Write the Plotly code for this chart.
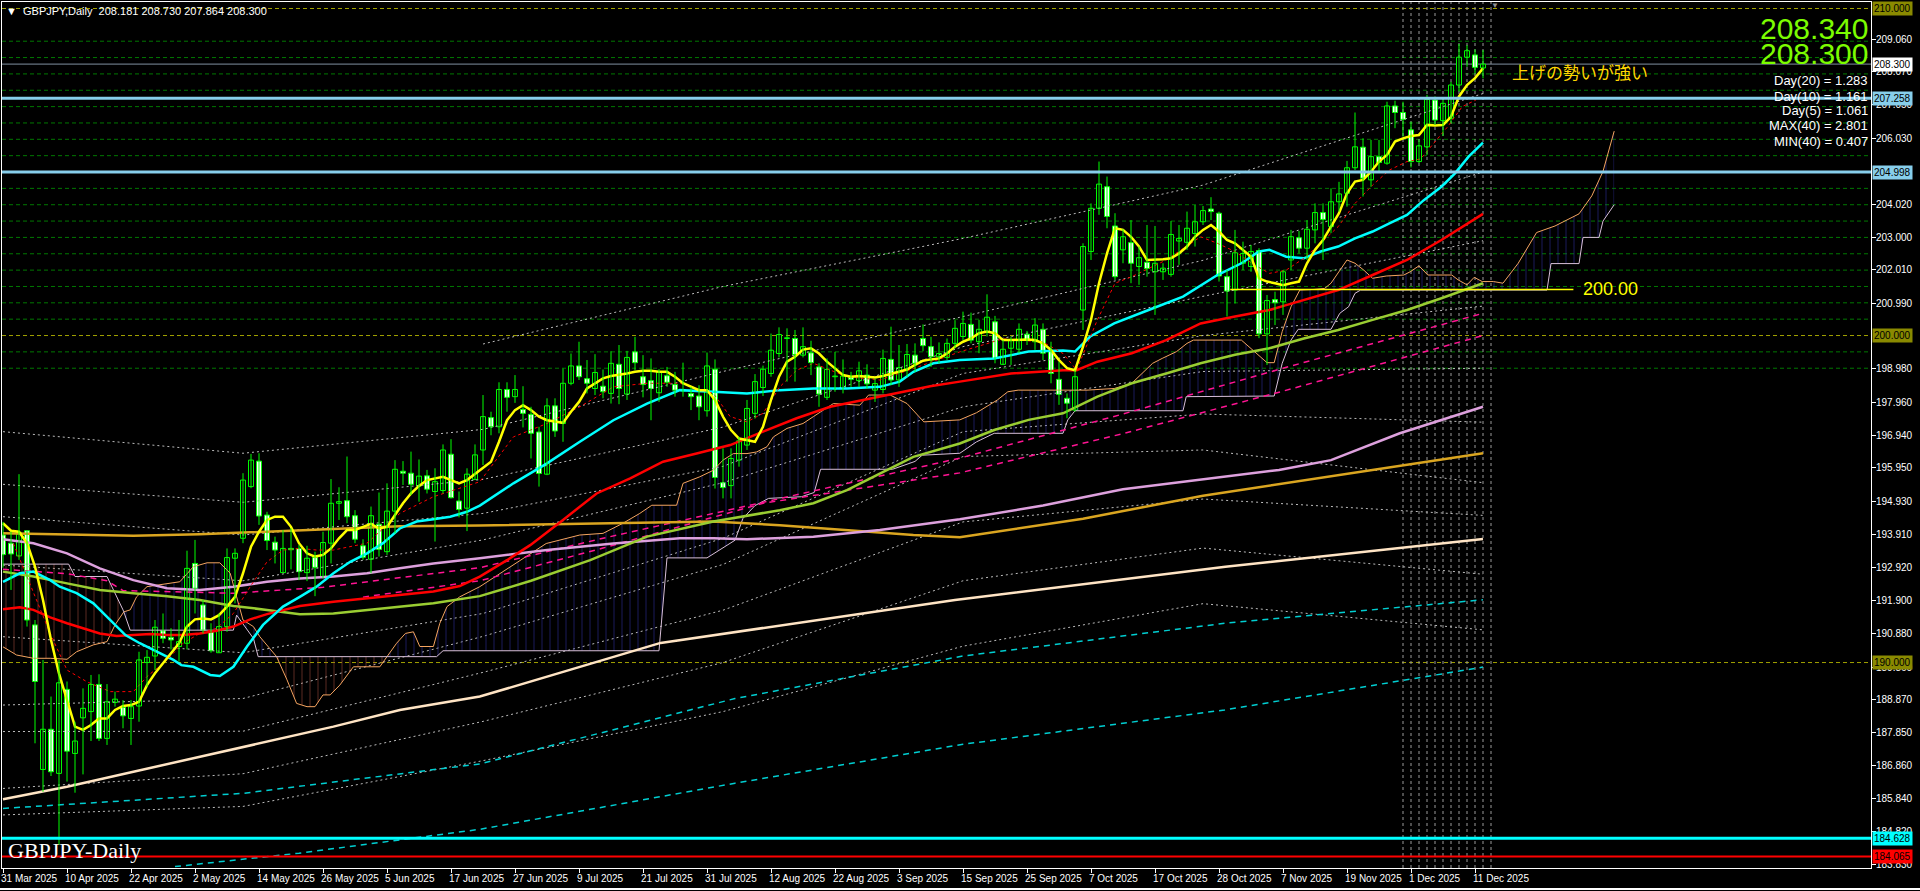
import plotly.graph_objects as go

# ---------------- data ----------------
opens = [193.9,193.65,193.26,194.03,191.15,186.73,187.96,186.61,189.18,187.22,188.31,188.5,189.33,187.68,188.78,188.63,188.29,188.67,190.0,190.2,
 190.97,190.77,190.49,190.59,193.03,191.76,190.94,190.3,191.1,193.19,193.8,195.38,196.16,194.51,193.68,192.75,193.49,193.49,192.75,193.21,
 192.63,193.65,194.87,194.95,194.49,193.57,193.16,194.23,193.39,194.63,195.85,195.79,195.4,195.71,195.23,195.26,196.37,194.94,194.72,195.6,
 196.5,197.49,197.21,198.35,198.13,197.74,197.59,197.05,195.76,197.85,197.31,198.54,199.07,198.68,198.38,198.45,198.23,199.12,198.21,199.5,
 198.74,198.62,198.25,198.77,198.5,198.31,198.23,198.15,197.7,198.97,195.5,195.41,196.19,196.65,197.62,198.41,198.84,199.45,199.91,199.91,
 199.4,199.47,199.04,198.11,198.74,198.38,198.72,198.62,198.79,198.33,198.35,199.27,198.64,198.97,199.4,199.91,199.66,199.35,199.33,199.76,
 199.97,200.34,199.81,200.12,200.42,199.12,199.61,199.58,200.04,199.81,200.19,199.51,198.66,198.08,197.72,200.78,202.57,203.89,204.55,203.35,
 202.62,202.84,202.11,202.24,201.95,201.95,201.87,202.89,202.85,203.12,203.48,203.87,203.74,201.8,201.39,202.21,202.11,202.6,200.05,201.1,
 201.03,202.31,202.99,202.67,203.23,203.76,203.33,204.09,204.35,205.13,205.76,204.76,205.47,205.27,207.02,206.82,206.29,205.32,205.77,207.2,
 206.57,206.64,207.66,208.51,208.58,208.181]
highs = [194.3,194.0,195.76,194.03,191.3,190.08,188.96,190.08,189.42,188.19,189.21,189.62,189.64,189.34,189.11,188.85,188.85,190.33,190.38,191.3,
 191.5,191.05,191.3,193.42,193.75,191.91,191.2,191.5,193.49,193.49,195.79,196.38,196.4,194.61,193.85,194.05,194.1,193.6,193.57,193.39,
 194.0,195.61,195.36,196.3,194.66,193.77,194.77,195.2,195.48,196.19,196.16,196.45,196.21,195.89,195.94,196.67,196.83,195.23,195.94,196.67,
 198.18,197.67,198.57,198.57,198.79,198.45,197.82,197.21,198.08,198.08,198.99,199.45,199.81,199.25,199.43,198.96,199.52,199.71,199.53,199.96,
 199.4,199.3,198.97,199.04,198.89,199.17,198.43,198.48,199.48,199.27,196.55,196.55,196.9,198.03,198.82,199.08,200.06,200.25,200.22,200.17,
 200.25,199.84,199.15,199.3,199.5,199.27,198.89,199.2,199.12,198.69,199.57,200.27,199.71,199.74,199.76,200.34,199.96,199.79,199.91,200.47,
 200.73,200.7,200.48,201.26,200.6,199.86,199.97,200.37,200.14,200.53,200.37,199.81,199.2,198.23,198.94,202.82,204.04,205.32,204.86,203.74,
 203.25,203.53,202.72,203.38,203.35,202.21,203.5,203.38,203.79,203.99,203.96,204.23,203.79,202.0,203.23,202.87,202.77,202.67,201.24,201.34,
 202.0,203.23,203.2,203.53,204.04,204.04,204.5,204.7,205.34,206.82,206.03,205.98,205.98,207.15,207.18,207.15,206.54,205.98,207.36,207.31,
 207.25,207.76,208.92,208.88,208.75,208.730]
lows = [192.9,192.22,193.14,191.1,187.53,186.05,186.53,184.42,186.36,186.02,186.58,187.6,187.6,187.48,188.65,187.99,187.48,188.19,189.26,189.77,
 190.59,190.4,190.03,190.4,191.5,190.89,190.3,190.3,190.94,191.81,193.65,195.33,194.21,193.44,193.03,192.75,192.85,192.52,192.49,192.03,
 192.58,193.03,194.36,194.26,193.65,193.14,192.73,193.24,193.29,193.95,195.43,195.12,194.92,195.17,193.7,195.17,195.02,194.44,194.02,195.58,
 196.04,196.95,197.01,197.67,197.94,197.19,196.24,195.38,195.73,196.9,196.75,198.48,198.64,198.23,198.18,198.08,197.92,197.9,198.03,198.94,
 198.11,197.41,197.97,198.43,198.13,198.13,197.72,197.41,197.52,195.32,195.02,195.02,195.99,196.5,197.46,198.15,198.74,199.33,198.59,198.59,
 199.33,198.79,197.82,198.03,198.28,198.23,198.43,198.43,198.38,197.97,198.23,198.48,198.43,198.74,198.89,199.52,199.04,199.15,199.25,199.61,
 199.86,199.76,199.46,199.97,199.15,199.1,199.1,199.46,199.71,199.56,199.25,198.54,197.88,197.47,197.67,200.17,202.31,203.69,203.28,201.7,
 202.21,201.6,201.55,201.8,200.63,201.7,201.8,202.16,202.62,202.72,203.38,203.53,201.65,200.58,200.98,202.0,201.95,199.92,199.1,200.32,
 200.63,202.0,202.51,202.31,202.82,202.31,203.13,203.79,203.94,205.06,204.25,204.55,205.01,205.22,206.34,206.08,205.14,205.27,205.52,206.44,
 206.1,206.49,207.46,208.22,208.02,207.864]
closes = [193.3,193.32,193.98,191.3,189.42,187.96,186.66,189.38,187.29,187.6,188.6,189.33,187.68,188.8,188.88,188.37,188.65,190.08,190.16,191.08,
 190.74,190.69,190.64,192.88,192.27,190.99,190.36,191.1,193.21,193.34,195.58,196.19,194.48,193.73,193.44,193.49,193.45,192.78,193.19,192.91,
 193.67,194.87,194.92,194.46,193.77,193.22,194.49,193.46,194.63,195.91,195.79,195.45,195.7,195.3,195.53,196.5,195.04,194.68,195.76,196.35,
 197.52,197.21,198.35,198.11,198.35,197.62,197.01,195.78,197.85,197.08,198.54,199.07,198.74,198.54,198.87,198.28,199.15,198.38,199.33,199.17,
 198.5,198.38,198.89,198.57,198.33,198.35,198.13,197.82,199.07,195.66,195.35,196.24,196.78,197.77,198.59,198.97,199.55,200.03,199.93,199.42,
 199.66,199.17,198.21,198.96,198.74,198.76,198.66,198.92,198.52,198.53,199.3,198.64,199.02,199.42,199.15,199.69,199.35,199.45,199.76,200.22,
 200.37,199.86,200.19,200.56,199.3,199.58,199.86,200.19,199.86,200.32,199.46,198.84,198.2,197.93,198.74,202.72,203.89,204.63,203.64,201.8,
 203.02,202.21,202.38,202.05,202.21,202.06,203.09,202.97,203.28,203.48,203.82,203.79,201.82,201.36,202.53,202.51,202.57,200.05,201.07,201.0,
 201.95,203.02,202.67,203.25,203.76,203.55,204.09,204.33,205.13,205.77,204.81,205.47,205.29,207.02,206.82,206.61,205.32,205.8,207.22,206.59,
 207.1,207.66,208.51,208.71,208.2,208.300]

# x-axis labels (one every 8 bars)
date_labels = ["31 Mar 2025","10 Apr 2025","22 Apr 2025","2 May 2025","14 May 2025","26 May 2025","5 Jun 2025","17 Jun 2025",
 "27 Jun 2025","9 Jul 2025","21 Jul 2025","31 Jul 2025","12 Aug 2025","22 Aug 2025","3 Sep 2025","15 Sep 2025","25 Sep 2025",
 "7 Oct 2025","17 Oct 2025","28 Oct 2025","7 Nov 2025","19 Nov 2025","1 Dec 2025","11 Dec 2025"]
date_bars = [0,8,16,24,32,40,48,56,64,72,80,88,96,104,112,120,128,136,144,152,160,168,176,184]

# price axis labels (those not hidden behind the level boxes)
price_ticks = [209.060,208.070,207.050,206.030,204.020,203.000,202.010,200.990,198.980,197.960,196.940,
 195.950,194.930,193.910,192.920,191.900,190.880,189.860,188.870,187.850,186.860,185.840,184.820,183.830]

# moving averages
ma5_y = [194.26,194.03,194.0,193.65,192.93,191.91,190.69,189.67,188.85,188.04,187.94,188.09,188.29,188.29,188.55,188.67,188.7,188.8,189.31,189.67,
 189.98,190.28,190.59,191.1,191.32,191.35,191.32,191.45,191.71,192.01,192.73,193.54,194.0,194.36,194.46,194.46,194.15,193.65,193.34,193.24,
 193.29,193.49,193.8,194.05,194.05,194.15,194.24,194.1,194.15,194.51,194.87,195.17,195.4,195.58,195.63,195.68,195.58,195.48,195.58,195.77,
 195.94,196.14,196.75,197.41,197.72,197.87,197.72,197.52,197.41,197.36,197.33,197.67,197.97,198.38,198.54,198.69,198.76,198.79,198.84,198.89,
 198.92,198.92,198.89,198.89,198.74,198.54,198.43,198.33,198.33,198.03,197.52,197.11,196.85,196.8,196.75,197.21,198.03,198.74,199.2,199.35,
 199.57,199.61,199.45,199.2,198.99,198.79,198.74,198.76,198.74,198.72,198.76,198.82,198.89,198.96,199.1,199.23,199.27,199.3,199.45,199.66,
 199.81,199.91,200.07,200.12,200.07,199.86,199.86,199.88,199.88,199.86,199.76,199.56,199.25,199.0,198.94,199.66,200.48,201.6,202.51,203.28,
 203.23,203.02,202.72,202.31,202.31,202.33,202.36,202.51,202.72,203.02,203.23,203.38,203.18,202.92,202.82,202.62,202.41,201.75,201.65,201.6,
 201.54,201.6,201.65,202.21,202.62,202.92,203.33,203.74,204.35,204.71,204.76,205.01,205.32,205.52,205.93,206.03,206.1,206.13,206.44,206.42,
 206.44,206.69,207.31,207.66,207.87,208.17]

ma10_x = [1.3,5.9,8,10.5,13.4,16.3,18,20.5,22.5,24.6,26.7,28.8,30.9,33,35,37.1,39.2,41.3,45.5,49.6,53.8,59.6,
 63.8,68,72.1,76.3,80.5,84.6,88.8,90.9,93,95,97.1,99.2,101.3,105.5,109.6,113.8,119.6,125,130,132.5,134.2,136.8,139,141.1,145.4,149.7,
 151.8,154,156.1,158.3,160.4,162.6,164.7,166.9,169,171.2,173.3,175.5,177.2,178.9,180.6,182.4,184.1]
ma10_y = [193.64,190.89,189.77,189.41,189.11,189.11,189.57,190.08,190.59,190.89,191.05,191.5,192.32,193.08,193.44,193.49,193.44,193.44,193.65,194.56,195.07,195.53,
 196.9,197.31,197.82,198.43,198.54,198.54,198.23,197.52,197.36,197.62,198.43,198.94,199.15,198.74,198.64,198.99,199.5,199.9,199.8,199.45,198.95,200.48,201.6,201.8,202.31,203.02,
 202.82,202.57,202.21,201.9,202.0,202.36,202.82,203.33,204.04,204.6,205.06,205.32,205.4,205.88,206.39,207.0,207.2]

ma20_x = [0,2.1,3.8,5.9,7.1,9.2,11.3,13.4,15.3,17.1,19.2,21.3,22.3,23.8,25.9,27.1,28.8,30.5,32.5,35,37.1,39.2,41.3,43.4,45.5,47.5,49.6,51.7,53.8,55.9,58,59.6,
 63.8,68,72.1,76.3,80.5,84.6,88.8,93,97.1,101.3,105.5,109.6,112.1,113.8,116.3,119.6,
 123.9,128.2,132.5,134,135.9,138.9,143.2,147.5,151.8,154.8,157,158.3,160.4,162.6,164.7,166.9,169,171.2,173.3,175.5,177.6,179.8,181.5,183.2,185]
ma20_y = [192.47,192.73,192.78,192.52,192.32,192.12,191.81,191.3,190.84,190.59,190.33,190.08,189.92,189.87,189.62,189.59,189.87,190.49,191.15,191.71,192.01,192.32,192.73,193.08,193.34,193.65,194.1,194.31,194.38,194.46,194.61,194.8,
 195.48,196.09,196.75,197.41,197.92,198.33,198.28,198.23,198.33,198.38,198.38,198.43,198.59,198.89,199.15,199.25,
 199.3,199.51,199.54,199.51,199.97,200.37,200.78,201.19,201.85,202.21,202.57,202.62,202.41,202.36,202.57,202.72,202.97,203.18,203.43,203.69,204.14,204.55,204.96,205.47,205.9]

ma50_x = [0,2.1,3.8,5.9,8,10,12.1,14.2,16.3,18.4,20.5,22.5,24.6,26.7,28.8,30.9,33,35,37.1,41.3,45.5,49.6,53.8,57.1,59.6,
 63,65.9,70,74.2,78.4,82.5,86.7,90.9,95,99.2,103.4,107.5,111.7,115.9,119.6,126,132.5,134.2,136.8,141.1,145.4,149.7,154,158.3,160.4,162.6,166.9,171.2,175.5,179.8,185]
ma50_y = [191.63,191.69,191.61,191.38,191.2,191.05,190.89,190.81,190.84,190.87,190.84,190.84,190.89,190.97,191.1,191.32,191.48,191.61,191.73,191.86,191.96,192.07,192.17,192.34,192.63,
 193.13,193.59,194.36,195.17,195.63,196.14,196.39,196.65,197.06,197.47,197.82,198.03,198.23,198.45,198.59,198.84,198.94,198.94,199.2,199.46,199.86,200.37,200.58,200.78,200.93,201.09,201.39,201.85,202.31,202.92,203.72]

ma100_x = [0,3.8,8,12.1,16.3,20.5,24.6,28.8,33,37.1,41.3,45.5,49.6,53.8,59.6,66,73.4,80.5,88.8,97.1,101.3,105.5,109.6,113.8,119.6,
 123.9,128.2,132.5,136.8,141.1,145.4,149.7,154,158.3,162.6,166.9,171.2,175.5,179.8,185]
ma100_y = [192.78,192.63,192.42,192.22,192.12,192.03,191.91,191.73,191.61,191.48,191.5,191.61,191.71,191.81,192.03,192.5,193.13,193.85,194.31,194.66,194.87,195.27,195.78,196.29,196.7,
 197.11,197.42,197.62,198.13,198.54,198.84,199.15,199.41,199.61,199.91,200.17,200.48,200.78,201.14,201.6]

ma200_x = [0,3.8,8,12.1,16.3,20.5,24.6,28.8,33,37.1,41.3,45.5,49.6,53.8,59.6,68,76.3,84.6,88.8,93,101.3,109.6,119.6,130,140,150,159.5,166,174.6,185]
ma200_y = [193.77,193.65,193.34,192.88,192.52,192.27,192.22,192.32,192.47,192.57,192.63,192.73,192.88,193.03,193.19,193.44,193.64,193.8,193.8,193.77,193.85,194.05,194.38,194.8,195.3,195.6,195.89,196.19,197.01,197.82]

ma300_x = [0,8,16.3,24.6,33,41.3,49.6,59.6,76.3,88.8,97.1,105.5,113.8,119.6,135,150,171.2,185]
ma300_y = [193.95,193.92,193.88,193.92,194.0,194.08,194.17,194.19,194.27,194.31,194.2,194.05,193.9,193.83,194.4,195.1,195.89,196.4]

ma_long_x = [0,8,16.3,24.6,33,41.3,49.6,59.6,82.2,119,152.8,185]
ma_long_y = [185.82,186.2,186.66,187.12,187.58,188.04,188.55,188.96,190.6,191.91,192.93,193.78]

# faint dotted bands
band_x = [0, 30, 60, 90, 120, 150, 185]
band_1 = [None, None, 199.74, 201.5, 202.97, 204.6, 207.4]
band_2 = [197.06, 196.4, 197.13, 198.9, 200.58, 202.3, 205.0]
band_3 = [195.45, 194.9, 195.6, 197.2, 199.66, 201.2, 202.9]
band_4 = [194.46, 193.9, 194.56, 196.0, 198.84, 200.0, 200.9]
band_5 = [192.98, 192.5, 193.75, 195.5, 197.82, 198.9, 199.0]
band_6 = [190.79, 190.3, 191.5, 193.8, 197.06, 197.6, 197.35]
band_7 = [188.7, 188.9, 190.8, 193.0, 196.3, 196.5, 195.5]
band_8 = [187.89, 187.9, 189.7, 191.6, 194.3, 195.0, 194.5]
band_9 = [186.15, 186.6, 188.2, 190.0, 192.5, 193.5, 192.7]
band_10 = [185.34, 185.6, 187.0, 188.5, 190.5, 191.8, 191.0]

pink_1_x = [0, 8, 13, 15, 28.8, 40, 59.6, 75, 88.8, 119.6, 140, 160, 185]
pink_1_y = [192.85, 192.72, 192.5, 192.2, 192.12, 192.3, 192.9, 193.8, 194.56, 196.25, 197.6, 199.0, 200.68]
pink_2_x = [45, 59.6, 75, 95, 119.6, 140, 160, 185]
pink_2_y = [192.0, 192.5, 193.5, 194.87, 195.8, 197.0, 198.3, 200.0]
teal_1_x = [0, 30, 59.6, 91.5, 120, 152.7, 185]
teal_1_y = [185.54, 186.0, 186.9, 188.9, 190.2, 191.2, 191.92]
teal_2_x = [21.5, 37, 59.6, 91.5, 120, 152.7, 185]
teal_2_y = [183.76, 184.17, 184.9, 186.31, 187.5, 188.55, 189.86]

# ichimoku spans (shifted)
spanA_x = [0,1.7,3.8,5.9,8,9.2,11.3,13,14,15,15.1,15.9,16.7,18,19.6,22.1,23.8,25.5,27.1,28.4,29.2,30,31.3,32.1,34.2,35.5,36.7,38,39,40,40.9,42.1,43.8,47.1,48,
 49.2,50.3,51.3,52.1,53.8,54.6,55.5,57.1,59.6,67.9,72.1,75,77.5,79.6,81.1,84.2,85,87.1,88.8,90,91.3,93,94.2,95.5,96.3,98,100,101.3,103.8,107.1,108.2,110.9,113,115.1,119.6,
 121.7,123,124.3,125.6,126.9,135.5,138.9,141.1,142.4,143.7,144.9,146.7,148,148.8,154.8,155.7,156.9,158,158.9,159.9,161,162.1,163.9,165.2,166,167.1,168,169,170.1,171.2,
 172.9,175.1,175.9,177,178.1,181.1,181.9,183,183.9,184.9,186.3,187.5,189.4,191.7,194,197,198.6,200,201.4]
spanA_y = [190.48,190.23,190.13,190.13,190.1,190.33,190.54,190.64,191.15,191.5,191.55,191.61,192.01,192.32,192.37,192.47,192.93,193.05,193.05,192.73,192.01,191.3,191.1,190.79,190.18,189.47,188.75,188.65,188.65,189.01,189.01,189.31,189.87,189.87,190.18,
 190.59,190.89,190.94,190.49,190.49,191.2,191.71,192.01,192.32,193.64,193.9,193.95,194.26,194.56,194.81,194.81,195.48,195.68,195.88,196.19,196.39,196.39,196.44,196.6,196.9,197.16,197.31,197.52,197.92,197.87,198.18,198.18,197.92,197.36,197.42,
 197.64,197.83,198.03,198.28,198.33,198.33,198.38,198.54,198.84,199.15,199.3,199.51,199.76,199.86,199.86,199.66,199.41,199.17,199.17,200.12,200.88,201.39,201.41,201.44,201.6,202.0,202.31,202.21,202.0,201.75,
 201.82,201.85,201.95,202.13,201.85,201.85,201.7,201.55,201.78,201.65,201.65,201.6,202.21,203.15,203.35,203.72,204.27,205.02,206.25]
spanB_x = [0,8.2,9,13,15,15.1,15.9,19.2,28.8,29.2,30.5,31.3,31.9,34.2,48,54.2,55,59.6,82,83,88,91.5,92.5,94,95.7,99.8,101.4,102.2,111.2,114,114.9,119.6,
 121.7,123.9,132.5,133.1,134,147.5,147.9,158.9,159.9,161,161.9,166,167.1,168.2,169,169.7,193,193.5,197,197.5,199.5,200,201.4]
spanB_y = [193.01,193.01,192.63,192.63,191.61,191.55,190.99,190.99,190.99,191.45,190.99,190.74,190.18,190.18,190.18,190.18,190.36,190.36,190.36,193.2,193.2,193.74,194.41,194.8,195.02,195.07,195.2,195.91,195.91,196.15,196.34,196.4,
 196.75,197.01,197.01,197.42,197.7,197.7,198.13,198.15,199.15,199.86,200.19,200.19,200.68,200.88,201.29,201.39,201.39,202.2,202.2,203.0,203.0,203.5,204.0]
cloud_segments = [(0, 15.1, "bear"), (15.1, 34.2, "bull"), (34.2, 48, "bear"), (48, 201.4, "bull")]

# horizontal levels
olive_levels = [210.0, 200.0, 190.0]
green_levels = [199.0,199.5,200.5,201.0,201.5,202.0,202.5,203.0,203.5,204.0,204.5,205.0,205.5,206.0,206.5,207.0,207.5,208.0,208.5,209.0]
blue_levels = [207.258, 204.998]
bid_price = 208.300
cyan_level = 184.628
red_level = 184.065
trend_level = 201.41
trend_from, trend_to = 153.4, 196.3
sep_bars = list(range(175, 187))

info_lines = ["Day(20) = 1.283", "Day(10) = 1.161", "Day(5) = 1.061", "MAX(40) = 2.801", "MIN(40) = 0.407"]

# ---------------- figure ----------------
Y0, Y1 = 183.717, 210.199
X0, X1 = -0.125, 233.5
FONT = "Liberation Sans"
W, H = 1920, 891
ML, MR, MT, MB = 2, 49, 2, 23
PW, PH = W - ML - MR, H - MT - MB

def px_x(p):
    return (p - ML) / PW

def px_y(p):
    return 1 - (p - MT) / PH

fig = go.Figure()

def line(x, y, color, width=2.5, dash=None):
    fig.add_trace(go.Scatter(x=x, y=y, mode="lines", line=dict(color=color, width=width, dash=dash),
                             hoverinfo="skip", showlegend=False, connectgaps=False))

# faint dotted bands
for band in (band_1, band_2, band_3, band_4, band_5, band_6, band_7, band_8, band_9, band_10):
    line(band_x, band, "#bcbcbc", 1, "2px,3px")

# ichimoku cloud hatch
def pick(xs, ys, a, b):
    px = [x for x in xs if a <= x <= b]
    py = [y for x, y in zip(xs, ys) if a <= x <= b]
    return px, py

for a, b, kind in cloud_segments:
    col = "#2c2ca0" if kind == "bull" else "#a04a3c"
    bx, by = pick(spanB_x, spanB_y, a, b)
    ax_, ay_ = pick(spanA_x, spanA_y, a, b)
    fig.add_trace(go.Scatter(x=bx, y=by, mode="lines", line=dict(width=0, color="rgba(0,0,0,0)"),
                             hoverinfo="skip", showlegend=False))
    fig.add_trace(go.Scatter(x=ax_, y=ay_, mode="lines", line=dict(width=0, color="rgba(0,0,0,0)"),
                             fill="tonexty", fillcolor="rgba(0,0,0,0)",
                             fillpattern=dict(shape="|", fgcolor=col, bgcolor="rgba(0,0,0,0)", size=8, solidity=0.14),
                             hoverinfo="skip", showlegend=False))

line(spanA_x, spanA_y, "#F4A460", 1)
line(spanB_x, spanB_y, "#D8BFD8", 1)

# dashed channel lines
line(teal_1_x, teal_1_y, "#00CED1", 1.5, "6px,5px")
line(teal_2_x, teal_2_y, "#00CED1", 1.5, "6px,5px")
line(pink_1_x, pink_1_y, "#FF1493", 1.5, "6px,5px")
line(pink_2_x, pink_2_y, "#FF1493", 1.5, "6px,5px")

# moving averages
line(ma_long_x, ma_long_y, "#FFE4C4", 2.5)
line(ma300_x, ma300_y, "#DAA520", 2.5)
line(ma200_x, ma200_y, "#DDA0DD", 2.5)
line(ma100_x, ma100_y, "#9ACD32", 2.5)
line(ma50_x, ma50_y, "#FF0000", 2.5)
line(ma20_x, ma20_y, "#00FFFF", 2.5)
line(ma10_x, ma10_y, "#FF0000", 1, "dot")

idx = list(range(len(opens)))
line(idx, ma5_y, "#FFFF00", 2.5)

# candles: wicks
wx, wy = [], []
for i, h, l in zip(idx, highs, lows):
    wx += [i, i, None]
    wy += [l, h, None]
fig.add_trace(go.Scatter(x=wx, y=wy, mode="lines", line=dict(color="#00FF00", width=1), hoverinfo="skip", showlegend=False))

# candles: bodies (black = up, white = down)
for bull in (True, False):
    xs, bases, hts = [], [], []
    for i, o, c in zip(idx, opens, closes):
        if (c >= o) == bull:
            xs.append(i)
            bases.append(min(o, c))
            hts.append(max(abs(c - o), 0.02))
    fig.add_trace(go.Bar(x=xs, y=hts, base=bases, width=0.62,
                         marker=dict(color="#000000" if bull else "#FFFFFF", line=dict(color="#00FF00", width=1)),
                         hoverinfo="skip", showlegend=False))

# yellow trend line
line([trend_from, trend_to], [trend_level, trend_level], "#FFFF00", 1.5)

shapes = []
for lv in green_levels:
    shapes.append(dict(type="line", xref="paper", x0=0, x1=1, y0=lv, y1=lv, layer="below",
                       line=dict(color="#007800", width=1, dash="4px,3px")))
for lv in olive_levels:
    shapes.append(dict(type="line", xref="paper", x0=0, x1=1, y0=lv, y1=lv, layer="below",
                       line=dict(color="#a0a000", width=1, dash="4px,3px")))
for b in sep_bars:
    shapes.append(dict(type="line", yref="paper", x0=b, x1=b, y0=0, y1=1, layer="below",
                       line=dict(color="#9a9a9a", width=1, dash="3px,3px")))
shapes.append(dict(type="line", xref="paper", x0=0, x1=1, y0=bid_price, y1=bid_price, layer="below",
                   line=dict(color="#8090a0", width=1)))
for lv in blue_levels:
    shapes.append(dict(type="line", xref="paper", x0=0, x1=1, y0=lv, y1=lv, line=dict(color="#87CEEB", width=3)))
shapes.append(dict(type="line", xref="paper", x0=0, x1=1, y0=cyan_level, y1=cyan_level, line=dict(color="#00FFFF", width=3)))
shapes.append(dict(type="line", xref="paper", x0=0, x1=1, y0=red_level, y1=red_level, line=dict(color="#FF0000", width=2)))
shapes.append(dict(type="line", xref="paper", yref="paper", x0=-0.01, x1=1.05, y0=px_y(889), y1=px_y(889),
                   line=dict(color="#FFFFFF", width=2)))

ann = []
for lbl, b in zip(date_labels, date_bars):
    ann.append(dict(x=b, y=0, xref="x", yref="paper", text=lbl, showarrow=False, xanchor="left", yanchor="top",
                    xshift=-4, yshift=-3, font=dict(family=FONT, size=10, color="#FFFFFF")))

for v in price_ticks:
    ann.append(dict(x=1, y=v, xref="paper", yref="y", text=f"{v:.3f}", showarrow=False, xanchor="left",
                    yanchor="middle", xshift=3, font=dict(family=FONT, size=10, color="#FFFFFF")))

def box(val, bg, fg="#000000"):
    ann.append(dict(x=1, y=val, xref="paper", yref="y", text=f"{val:.3f}", showarrow=False, xanchor="left",
                    yanchor="middle", xshift=1, bgcolor=bg, borderpad=1,
                    font=dict(family=FONT, size=10, color=fg)))

box(210.0, "#8a8a00")
box(bid_price, "#FFFFFF")
box(207.258, "#87CEEB")
box(204.998, "#87CEEB")
box(200.0, "#8a8a00")
box(190.0, "#8a8a00")
box(cyan_level, "#00FFFF")
box(red_level, "#FF0000")

# header
ann.append(dict(x=px_x(4), y=px_y(11), xref="paper", yref="paper", text="▼  GBPJPY,Daily  208.181 208.730 207.864 208.300",
                showarrow=False, xanchor="left", yanchor="middle",
                font=dict(family=FONT, size=11, color="#FFFFFF")))
ann.append(dict(x=px_x(1495), y=px_y(5), xref="paper", yref="paper", text="▼", showarrow=False, xanchor="center",
                yanchor="middle", font=dict(family=FONT, size=8, color="#909090")))
# big price texts
ann.append(dict(x=1, y=px_y(28), xref="paper", yref="paper", text="208.340", showarrow=False, xanchor="right",
                yanchor="middle", xshift=-1, font=dict(family=FONT, size=30, color="#7CFC00")))
ann.append(dict(x=1, y=px_y(53), xref="paper", yref="paper", text="208.300", showarrow=False, xanchor="right",
                yanchor="middle", xshift=-1, font=dict(family=FONT, size=30, color="#7CFC00")))
for k, t in enumerate(info_lines):
    ann.append(dict(x=1, y=px_y(81 + 15 * k), xref="paper", yref="paper", text=t, showarrow=False, xanchor="right",
                    yanchor="middle", xshift=-1, font=dict(family=FONT, size=13, color="#FFFFFF")))
ann.append(dict(x=px_x(1510), y=px_y(72), xref="paper", yref="paper", text="上げの勢いが強い", showarrow=False,
                xanchor="left", yanchor="middle", font=dict(family="Noto Sans CJK JP", size=17, color="#FFD700")))
ann.append(dict(x=197.2, y=trend_level, xref="x", yref="y", text="200.00", showarrow=False, xanchor="left",
                yanchor="middle", font=dict(family=FONT, size=18, color="#FFFF00")))
ann.append(dict(x=px_x(6), y=px_y(850), xref="paper", yref="paper", text="GBPJPY-Daily", showarrow=False,
                xanchor="left", yanchor="middle", font=dict(family="Liberation Serif", size=22, color="#FFFFFF")))

fig.update_layout(
    width=W, height=H, paper_bgcolor="#000000", plot_bgcolor="#000000",
    margin=dict(l=ML, r=MR, t=MT, b=MB), barmode="overlay", showlegend=False, hovermode=False,
    xaxis=dict(range=[X0, X1], showgrid=False, zeroline=False, showline=True, linecolor="#FFFFFF", linewidth=1,
               mirror=True, ticks="outside", ticklen=4, tickcolor="#FFFFFF", tickvals=date_bars,
               showticklabels=False, fixedrange=True),
    yaxis=dict(range=[Y0, Y1], side="right", showgrid=False, zeroline=False, showline=True, linecolor="#FFFFFF",
               linewidth=1, mirror=True, ticks="outside", ticklen=4, tickcolor="#FFFFFF",
               tickvals=price_ticks, showticklabels=False, fixedrange=True),
    shapes=shapes, annotations=ann,
)

fig.write_html("out.html", config={"displayModeBar": False},
               post_script="document.body.style.margin='0';document.body.style.padding='0';document.body.style.overflow='hidden';")
